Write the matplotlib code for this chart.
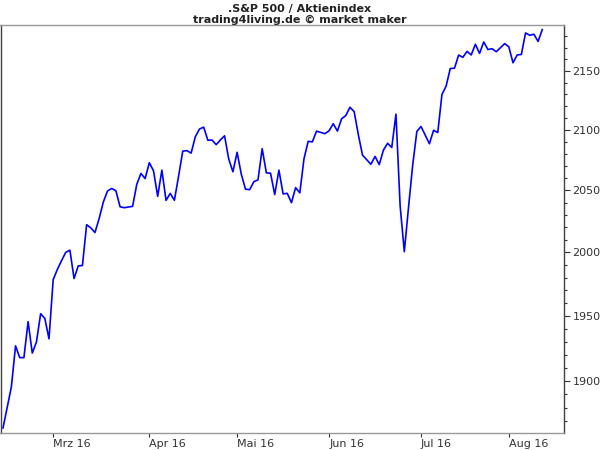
import numpy as np
import pandas as pd
import matplotlib
matplotlib.use("Agg")
import matplotlib.pyplot as plt
from matplotlib.ticker import FixedLocator, FixedFormatter, NullFormatter

# S&P 500 Schlusskurse (Handelstage 12.02.2016 - 11.08.2016)
start_date = "2016-02-12"
end_date = "2016-08-11"
# US-Feiertage: kein Kurs, die Zeitachse laeuft aber weiter (Wochentage)
holidays = ["2016-02-15", "2016-03-25", "2016-05-30", "2016-07-04"]

closes = [
    1864.78, 1895.58, 1926.82, 1917.83, 1917.78, 1945.50, 1921.27, 1929.80, 1951.70,
    1948.05, 1932.23,
    # Maerz
    1978.35, 1986.45, 1993.40, 1999.99, 2001.76, 1979.26, 1989.26, 1989.57, 2022.19, 2019.64,
    2015.93, 2027.22, 2040.59, 2049.58, 2051.60, 2049.80, 2036.71, 2035.94, 2037.05,
    2055.01, 2063.95, 2059.74,
    # April
    2072.78, 2066.13, 2045.17, 2066.66, 2041.91, 2047.60, 2041.99, 2061.72, 2082.42, 2082.78,
    2080.73, 2094.34, 2100.80, 2102.40, 2091.48, 2091.58, 2087.79, 2091.70, 2095.15, 2075.81,
    2065.30,
    # Mai
    2081.43, 2063.37, 2051.12, 2050.63, 2057.14, 2058.69, 2084.39, 2064.46, 2064.11, 2046.61,
    2066.66, 2047.21, 2047.63, 2040.04, 2052.32, 2048.04, 2076.06, 2090.54, 2090.10, 2099.06,
    2096.95,
    # Juni
    2099.33, 2105.26, 2099.13, 2109.41, 2112.13, 2119.12, 2115.48, 2096.07, 2079.06, 2075.32,
    2071.50, 2077.99, 2071.22, 2083.25, 2088.90, 2085.45, 2113.32, 2037.41, 2000.54, 2036.09,
    2070.77, 2098.86,
    # Juli
    2102.95, 2088.55, 2099.73, 2097.90, 2129.90, 2137.16, 2152.14, 2152.43, 2163.75,
    2161.74, 2166.89, 2163.78, 2173.02, 2165.17, 2175.03, 2168.48, 2169.18, 2166.58, 2170.06,
    2173.60,
    # August
    2170.84, 2157.03, 2163.79, 2164.25, 2182.87, 2180.89, 2181.74, 2175.49, 2185.79,
]
month_labels = ["Mrz 16", "Apr 16", "Mai 16", "Jun 16", "Jul 16", "Aug 16"]
y_major = [1900, 1950, 2000, 2050, 2100, 2150]
y_minor = [v for v in range(1870, 2190, 10) if v % 50 != 0]

title_1 = ".S&P 500 / Aktienindex"
title_2 = "trading4living.de \u00a9 market maker"

weekdays = pd.bdate_range(start_date, end_date)
trade_days = weekdays.drop(pd.to_datetime(holidays))
x = weekdays.get_indexer(trade_days)

# erster Wochentag jedes Monats (ab Maerz)
month_start = [i for i in range(1, len(weekdays)) if weekdays[i].month != weekdays[i - 1].month]

fig = plt.figure(figsize=(6, 4.5), dpi=100)
ax = fig.add_axes([0.5 / 600, 1 - 432.5 / 450, 563.5 / 600, 407.5 / 450])

ax.plot(x, closes, color="#0000ff", linewidth=1.2)

ax.set_yscale("log")
ax.set_xlim(-0.6, 134.2)
ax.set_ylim(1861.4, 2189.8)

ax.yaxis.tick_right()
ax.yaxis.set_major_locator(FixedLocator(y_major))
ax.yaxis.set_major_formatter(FixedFormatter([str(v) for v in y_major]))
ax.yaxis.set_minor_locator(FixedLocator(y_minor))
ax.yaxis.set_minor_formatter(NullFormatter())

ax.set_xticks(month_start)
ax.set_xticklabels(month_labels, ha="left")

ax.tick_params(axis="y", which="major", length=4, width=0.8, pad=2,
               labelsize=8, colors="#333333")
ax.tick_params(axis="y", which="minor", length=2, width=0.8, colors="#333333")
ax.tick_params(axis="x", which="major", length=3, width=0.8, pad=2,
               labelsize=8, colors="#333333")

for side in ["left", "right"]:
    ax.spines[side].set_color("#404040")
for side in ["top", "bottom"]:
    ax.spines[side].set_color("#999999")
for sp in ax.spines.values():
    sp.set_linewidth(1.0)

fig.text(0.5, 1 - 9 / 450, title_1, ha="center", va="center",
         fontsize=8, fontweight="bold", color="#222222")
fig.text(0.5, 1 - 19.5 / 450, title_2, ha="center", va="center",
         fontsize=8, fontweight="bold", color="#222222")

fig.savefig("out.png", dpi=100)
plt.close(fig)
